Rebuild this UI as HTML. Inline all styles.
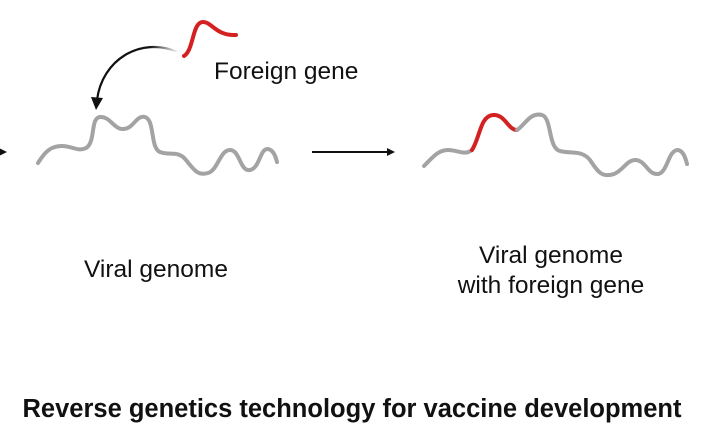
<!DOCTYPE html>
<html><head><style>
body{margin:0;background:#fff;width:723px;height:434px;overflow:hidden;font-family:"Liberation Sans",sans-serif;}
.t{position:absolute;font-size:24.5px;color:#111;text-align:center;white-space:nowrap;}
</style></head><body>
<svg width="723" height="434" style="position:absolute;left:0;top:0">
<defs><marker id="a" markerWidth="8" markerHeight="8" refX="6" refY="4" orient="auto" markerUnits="userSpaceOnUse"><path d="M0,0 L8,4 L0,8 Z" fill="#111"/></marker>
<marker id="b" markerWidth="12" markerHeight="12" refX="6" refY="6" orient="auto" markerUnits="userSpaceOnUse"><path d="M0,0 L12,6 L0,12 L3,6 Z" fill="#111"/></marker>
<linearGradient id="g" x1="1" y1="0" x2="0" y2="0"><stop offset="0" stop-color="#111" stop-opacity="0"/><stop offset="0.35" stop-color="#111"/></linearGradient></defs>
<g fill="none" stroke-linecap="round" stroke-width="4">
<path d="M38,163 C46,150 52,146 62,146 C72,146 78,152 86,148 C96,142 90,118 100,117 C110,116 114,130 124,129 C134,128 136,115 145,117 C155,120 150,148 160,152 C170,156 178,150 186,160 C194,170 198,176 208,173 C218,170 220,150 230,150 C240,150 240,172 250,170 C260,168 260,148 268,149 C274,150 276,158 277,162" stroke="#a3a3a3"/>
<path d="M424,166 C432,158 438,150 448,150 C458,150 464,156 472,150" stroke="#a3a3a3"/>
<path d="M472,150 C480,138 480,116 493,115 C505,114 508,130 517,130" stroke="#d42020"/>
<path d="M517,130 C525,125 530,112 542,115 C552,118 548,148 560,151 C572,154 582,150 590,160 C598,172 602,178 614,174 C624,170 626,160 636,160 C646,161 648,175 658,174 C668,172 668,150 678,150 C684,151 686,160 687,164" stroke="#a3a3a3"/>
<path d="M184,56 C194,50 192,22 203,22 C212,22 216,36 236,35" stroke="#d42020"/>
</g>
<path d="M178,52 C140,36 102,60 97,100" fill="none" stroke="url(#g)" stroke-width="2.2"/>
<polygon points="91,97 103,98 96,110" fill="#111"/>
<line x1="312" y1="152" x2="393" y2="152" stroke="#111" stroke-width="2" marker-end="url(#a)"/>
<line x1="0" y1="152" x2="5" y2="152" stroke="#111" stroke-width="2" marker-end="url(#a)"/>
</svg>
<div class="t" style="left:214px;top:58px;">Foreign gene</div>
<div class="t" style="left:56px;top:256px;width:200px">Viral genome</div>
<div class="t" style="left:446px;top:241px;width:210px;line-height:30px">Viral genome<br>with foreign gene</div>
<div class="t" style="left:0;top:395px;width:704px;font-weight:bold;font-size:25.5px">Reverse genetics technology for vaccine development</div>
</body></html>
